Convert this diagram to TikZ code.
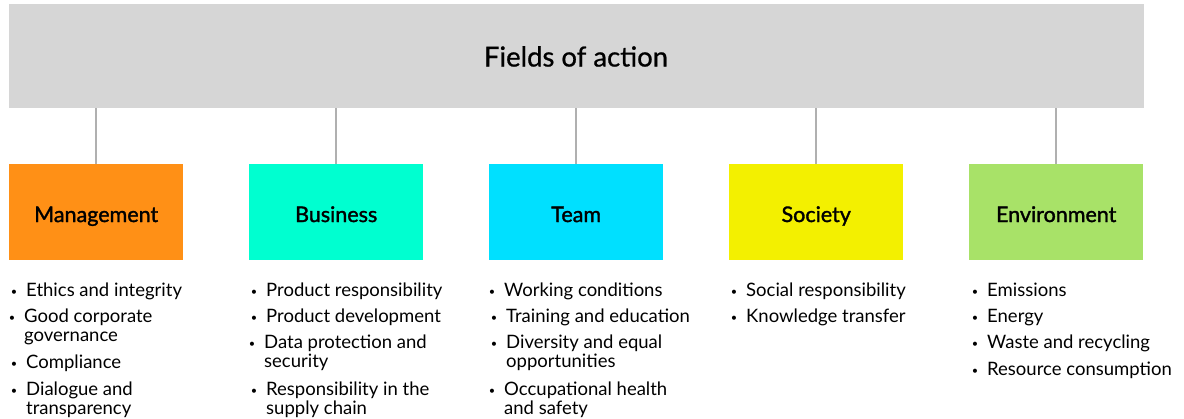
\documentclass[tikz,border=0pt]{standalone}
\usepackage{fontspec}
\setmainfont{Lato}
\newfontfamily\labfont[FakeBold=1.5]{Lato}
\newfontfamily\titfont[FakeBold=0.8]{Lato}
\definecolor{barg}{HTML}{D6D6D6}
\definecolor{lineg}{HTML}{B0B0B0}
\definecolor{cMan}{HTML}{FF9016}
\definecolor{cBus}{HTML}{00FFD0}
\definecolor{cTeam}{HTML}{00E0FF}
\definecolor{cSoc}{HTML}{F3F000}
\definecolor{cEnv}{HTML}{A8E268}
\newcommand{\itm}[4]{%
  \node[itemtxt] (#1) at (#2,#3) {\begin{tabular}[t]{@{}l@{}}#4\end{tabular}};
  \node[bul] (#1b) at ([xshift=-12pt]#1.base west) {\textbullet};
}
\begin{document}
\begin{tikzpicture}[x=1pt,y=-1pt,
  field/.style={draw=none,minimum width=174pt,minimum height=96pt,inner sep=0pt,anchor=north west},
  flabel/.style={anchor=base,inner sep=0pt,font=\labfont\fontsize{21.5}{24}\selectfont},
  conn/.style={draw=lineg,line width=2pt},
  itemtxt/.style={anchor=base west,inner sep=0pt,font=\fontsize{18.5}{19}\selectfont},
  bul/.style={anchor=base,inner sep=0pt,font=\fontsize{11}{12}\selectfont,yshift=1pt}]
\useasboundingbox (0,0) rectangle (1184,418);
\fill[white] (0,0) rectangle (1184,418);
\node[fill=barg,minimum width=1135pt,minimum height=104pt,inner sep=0pt,anchor=north west] (top) at (9,4) {};
\node[font=\titfont\fontsize{27.5}{30}\selectfont,inner sep=0pt,anchor=base] (title) at (576,66.5) {Fields of action};
\node[field,fill=cMan] (man) at (9,164) {};
\node[field,fill=cBus] (bus) at (249,164) {};
\node[field,fill=cTeam] (team) at (489,164) {};
\node[field,fill=cSoc] (soc) at (729,164) {};
\node[field,fill=cEnv] (env) at (969,164) {};
\node[flabel] (manl) at (man.center |- 0,222) {Management};
\node[flabel] (busl) at (bus.center |- 0,222) {Business};
\node[flabel] (teaml) at (team.center |- 0,222) {Team};
\node[flabel] (socl) at (soc.center |- 0,222) {Society};
\node[flabel] (envl) at (env.center |- 0,222) {Environment};
\foreach \n in {man,bus,team,soc,env}
  \draw[conn] (top.south -| \n.north) -- (\n.north);
% Management
\itm{m1}{26}{296}{Ethics and integrity}
\itm{m2}{24}{322}{Good corporate\\governance}
\itm{m3}{26}{368}{Compliance}
\itm{m4}{26}{395}{Dialogue and\\transparency}
% Business
\itm{b1}{266}{296}{Product responsibility}
\itm{b2}{266}{322}{Product development}
\itm{b3}{264}{348}{Data protection and\\security}
\itm{b4}{266}{395}{Responsibility in the\\supply chain}
% Team
\itm{t1}{504}{296}{Working conditions}
\itm{t2}{506}{322}{Training and education}
\itm{t3}{506}{348}{Diversity and equal\\opportunities}
\itm{t4}{504}{395}{Occupational health\\and safety}
% Society
\itm{s1}{746}{296}{Social responsibility}
\itm{s2}{746}{322}{Knowledge transfer}
% Environment
\itm{e1}{987}{296}{Emissions}
\itm{e2}{987}{322}{Energy}
\itm{e3}{987}{348}{Waste and recycling}
\itm{e4}{987}{375}{Resource consumption}
\end{tikzpicture}
\end{document}
